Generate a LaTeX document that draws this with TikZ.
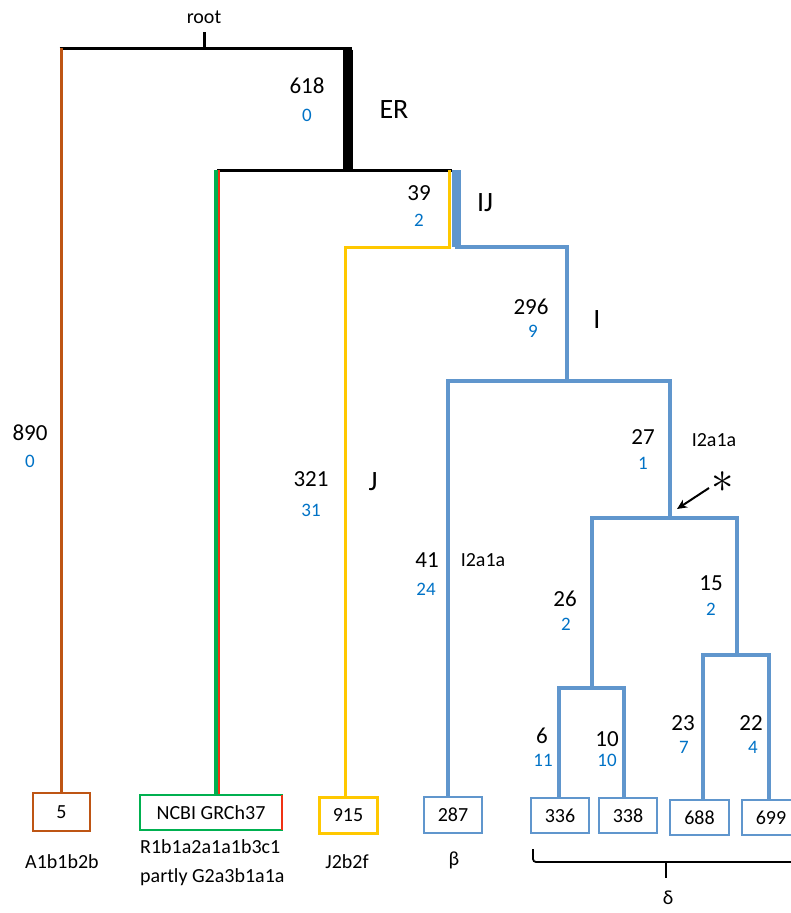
\documentclass[tikz,border=0pt]{standalone}
\usepackage{fontspec}
\usepackage{graphicx}
\setmainfont{Carlito}
\usetikzlibrary{arrows.meta}
\definecolor{brn}{RGB}{190,85,20}
\definecolor{grn}{RGB}{0,176,80}
\definecolor{rd}{RGB}{240,50,20}
\definecolor{ylw}{RGB}{255,200,0}
\definecolor{blu}{RGB}{96,150,205}
\definecolor{numblue}{RGB}{0,114,198}
\begin{document}
\begin{tikzpicture}[x=1pt,y=-1pt,
  blk/.style={draw=black, line width=3pt},
  bl/.style={draw=blu, line width=4pt},
  num/.style={font=\fontsize{23}{23}\selectfont, inner sep=0pt},
  cnt/.style={font=\fontsize{19}{19}\selectfont, text=numblue, inner sep=0pt},
  clade/.style={font=\fontsize{28}{28}\selectfont, inner sep=0pt},
  sub/.style={font=\fontsize{20}{20}\selectfont, inner sep=0pt},
  leaf/.style={line width=2.5pt, minimum width=58pt, minimum height=36pt, font=\fontsize{20}{20}\selectfont, inner sep=0pt},
  hap/.style={font=\fontsize{20}{29}\selectfont, inner sep=0pt, align=left}]
\useasboundingbox (0,0) rectangle (791,913);
\clip (0,0) rectangle (791,913);

% junction coordinates
\coordinate (rt) at (204,32);
\coordinate (r0) at (204,48);
\coordinate (jER) at (348,48);
\coordinate (jA) at (61,48);
\coordinate (n1) at (348,170);
\coordinate (jR) at (218,170);
\coordinate (jIJ) at (452,170);
\coordinate (yIJtop) at (449,170);
\coordinate (yIJ) at (449,247);
\coordinate (bIJtop) at (456,170);
\coordinate (bIJ) at (456,247);
\coordinate (jJ) at (345,247);
\coordinate (jI) at (567,247);
\coordinate (nI) at (567,381);
\coordinate (jb) at (448,381);
\coordinate (j27) at (670,381);
\coordinate (n27) at (670,518);
\coordinate (j26) at (592,518);
\coordinate (j15) at (737,518);
\coordinate (n26) at (592,688);
\coordinate (n15) at (737,655);
\coordinate (j6) at (559,688);
\coordinate (j10) at (624,688);
\coordinate (j23) at (703,655);
\coordinate (j22) at (769,655);

% leaves
\node[leaf, draw=brn, minimum width=57pt, minimum height=38pt] (L5) at (61.5,812) {5};
\node[leaf, draw=grn, minimum width=142pt, minimum height=35pt] (Lncbi) at (211,812.5) {NCBI GRCh37};
\draw[rd, line width=2.5pt] ([xshift=-1.5pt,yshift=-1pt]Lncbi.north east) -- ([xshift=-1.5pt,yshift=1pt]Lncbi.south east);
\node[leaf, draw=ylw, line width=3pt] (L915) at (348,815) {915};
\node[leaf, draw=blu] (L287) at (453,815) {287};
\node[leaf, draw=blu, minimum height=35pt] (L336) at (560,815.5) {336};
\node[leaf, draw=blu, minimum height=35pt] (L338) at (628,815.5) {338};
\node[leaf, draw=blu, minimum width=59pt, minimum height=35pt] (L688) at (699.5,817.5) {688};
\node[leaf, draw=blu, minimum height=35pt] (L699) at (771,817.5) {699};

% top black
\node[sub] (root) at (204,17) {root};
\draw[blk] (rt) -- (r0);
\draw[blk] ([xshift=-1.5pt]jA) -- ([xshift=4pt]jER);
\draw[draw=black, line width=10pt] ([yshift=-1.5pt]jER) -- ([yshift=1.5pt]n1);
\draw[blk] ([xshift=-1pt]jR) -- (jIJ);

% A branch
\draw[brn, line width=3pt] (jA) -- (jA |- L5.north);
% R branch
\draw[grn, line width=4pt] ([xshift=-2pt]jR) -- ([xshift=-2pt]jR |- Lncbi.north);
\draw[rd, line width=2pt] ([xshift=1pt]jR) -- ([xshift=1pt]jR |- Lncbi.north);
% IJ
\draw[ylw, line width=3pt] (yIJtop) -- (yIJ);
\draw[blu, line width=9pt] (bIJtop) -- (bIJ);
\draw[ylw, line width=3pt, line join=miter] (jJ |- L915.north) -- (jJ) -- ([xshift=1.5pt]yIJ);
\draw[bl, line join=miter] ([xshift=-1pt]bIJ) -| (nI);
% I subtree
\draw[bl, line join=miter] (jb |- L287.north) -- (jb) -| (n27);
\draw[bl] (nI) -- ([yshift=1pt]nI |- jb);
\draw[bl, line join=miter] (n26) -- (j26) -| (n15);
\draw[bl, line join=miter] (j6 |- L336.north) -- (j6) -| (j10 |- L338.north);
\draw[bl] (n26) -- ([yshift=1pt]n26 |- j6);
\draw[bl, line join=miter] (j23 |- L688.north) -- (j23) -| (j22 |- L699.north);
\draw[bl] (n15) -- ([yshift=1pt]n15 |- j23);

% branch labels
\node[num] (t618) at (307,86) {618};
\node[cnt] (c618) at (307,115) {0};
\node[clade] (ER) at (394,110) {ER};
\node[num] (t890) at (30,433) {890};
\node[cnt] (c890) at (30,461) {0};
\node[num] (t39) at (419,193) {39};
\node[cnt] (c39) at (419,220) {2};
\node[clade] (IJ) at (485,203) {IJ};
\node[num] (t321) at (311,479) {321};
\node[cnt] (c321) at (311,510) {31};
\node[clade] (J) at (373,482) {J};
\node[num] (t296) at (531,307) {296};
\node[cnt] (c296) at (533,331) {9};
\node[clade] (I) at (597,320) {I};
\node[num] (t41) at (427,560) {41};
\node[cnt] (c41) at (426,589) {24};
\node[sub] (s41) at (483,560) {I2a1a};
\node[num] (t27) at (643,437) {27};
\node[cnt] (c27) at (643,463) {1};
\node[sub] (s27) at (714,440) {I2a1a};
\node[num] (t26) at (565,599) {26};
\node[cnt] (c26) at (566,624) {2};
\node[num] (t15) at (711,583) {15};
\node[cnt] (c15) at (711,609) {2};
\node[num] (t6) at (542,736) {6};
\node[cnt] (c6) at (543,760) {11};
\node[num] (t10) at (607,739) {10};
\node[cnt] (c10) at (607,760) {10};
\node[num] (t23) at (683,723) {23};
\node[cnt] (c23) at (684,747) {7};
\node[num] (t22) at (751,723) {22};
\node[cnt] (c22) at (753,747) {4};

% asterisk and arrow
\node[inner sep=0pt, font=\fontsize{24}{24}\selectfont] (ast) at (723,482) {\scalebox{1.8}{$\ast$}};
\coordinate (arrS) at (709,488);
\coordinate (arrE) at (677,509);
\draw[line width=2pt, -{Stealth[length=10pt,width=9pt]}] (arrS) -- (arrE);

% haplogroup labels
\node[hap] (hA) at (62,862) {A1b1b2b};
\node[hap, anchor=west] (hR) at (140,863) {R1b1a2a1a1b3c1\\partly G2a3b1a1a};
\node[hap] (hJ) at (347,862) {J2b2f};
\node[hap] (hb) at (454,860) {β};
\node[hap] (hd) at (668,898) {δ};

% brace
\coordinate (brL) at (533,849);
\coordinate (brM) at (666,862);
\coordinate (brMb) at (666,878);
\coordinate (brR) at (800,862);
\draw[line width=1.8pt, rounded corners=3pt] (brL) -- (brL |- brM) -- (brR);
\draw[line width=1.8pt] (brM) -- (brMb);
\end{tikzpicture}
\end{document}
